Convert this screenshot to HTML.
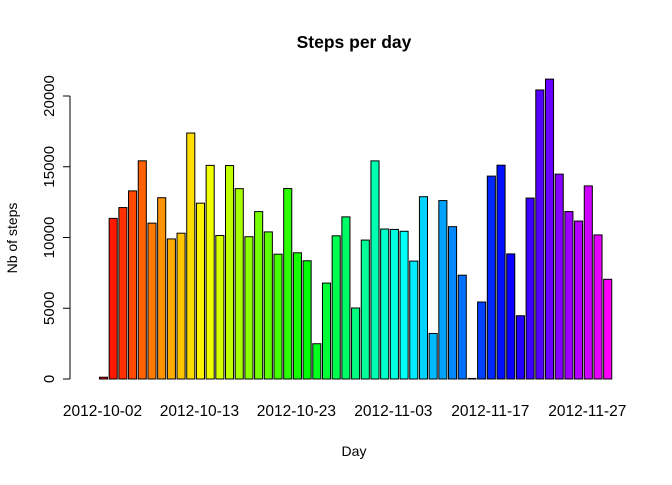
<!DOCTYPE html>
<html><head><meta charset="utf-8"><style>
body{margin:0;background:#fff}
svg text{font-family:"Liberation Sans",Arial,sans-serif}
</style></head><body>
<svg id="chart" width="672" height="480" viewBox="0 0 672 480" xmlns="http://www.w3.org/2000/svg">
<text x="354" y="48" text-anchor="middle" font-weight="bold" font-size="17.5">Steps per day</text>
<text x="354" y="456" text-anchor="middle" font-size="14">Day</text>
<text transform="translate(17,238) rotate(-90)" text-anchor="middle" font-size="14">Nb of steps</text>
<g id="bars"></g><g id="yaxis"></g><g id="xlabels"></g>
</svg>
<script>
const dates=["2012-10-02","2012-10-03","2012-10-04","2012-10-05","2012-10-06","2012-10-07","2012-10-09","2012-10-10","2012-10-11","2012-10-12","2012-10-13","2012-10-14","2012-10-15","2012-10-16","2012-10-17","2012-10-18","2012-10-19","2012-10-20","2012-10-21","2012-10-22","2012-10-23","2012-10-24","2012-10-25","2012-10-26","2012-10-27","2012-10-28","2012-10-29","2012-10-30","2012-10-31","2012-11-02","2012-11-03","2012-11-05","2012-11-06","2012-11-07","2012-11-08","2012-11-11","2012-11-12","2012-11-13","2012-11-15","2012-11-16","2012-11-17","2012-11-18","2012-11-19","2012-11-20","2012-11-21","2012-11-22","2012-11-23","2012-11-24","2012-11-25","2012-11-26","2012-11-27","2012-11-28","2012-11-29"];
const steps=[126,11352,12116,13294,15420,11015,12811,9900,10304,17382,12426,15098,10139,15084,13452,10056,11829,10395,8821,13460,8918,8355,2492,6778,10119,11458,5018,9819,15414,10600,10571,10439,8334,12883,3219,12608,10765,7336,41,5441,14339,15110,8841,4472,12787,20427,21194,14478,11834,11162,13646,10183,7047];
const yTicks=[0,5000,10000,15000,20000];
const NS="http://www.w3.org/2000/svg";
function y(v){return 379-(v/20000)*283;}
const unit=8.08, x0=103.5-0.7*unit;
function xc(i){return x0+(0.2+i*1.2+0.5)*unit;}
const bars=document.getElementById('bars');
steps.forEach((v,i)=>{
 const r=document.createElementNS(NS,'rect');
 r.setAttribute('x',xc(i)-unit/2);r.setAttribute('width',unit);
 r.setAttribute('y',y(v));r.setAttribute('height',379-y(v));
 r.setAttribute('fill',`hsl(${300*i/(steps.length-1)},100%,50%)`);
 r.setAttribute('stroke','#000');r.setAttribute('stroke-width','1');
 
 
 bars.appendChild(r);
});
const ya=document.getElementById('yaxis');
let ax=document.createElementNS(NS,'line');
ax.setAttribute('x1',70);ax.setAttribute('x2',70);ax.setAttribute('y1',y(0));ax.setAttribute('y2',y(20000));ax.setAttribute('stroke','#000');


ya.appendChild(ax);
yTicks.forEach(t=>{
 const l=document.createElementNS(NS,'line');
 l.setAttribute('x1',63);l.setAttribute('x2',70);l.setAttribute('y1',y(t));l.setAttribute('y2',y(t));l.setAttribute('stroke','#000');
 
 
 ya.appendChild(l);
 const tx=document.createElementNS(NS,'text');
 tx.setAttribute('transform',`translate(54,${y(t)}) rotate(-90)`);
 tx.setAttribute('text-anchor','middle');tx.setAttribute('font-size','15');
 tx.textContent=t;
 
 
 ya.appendChild(tx);
});
const xl=document.getElementById('xlabels');
for(let i=0;i<dates.length;i+=10){
 const tx=document.createElementNS(NS,'text');
 tx.setAttribute('x',xc(i)-1);tx.setAttribute('y',416);
 tx.setAttribute('text-anchor','middle');tx.setAttribute('font-size','15.5');
 tx.textContent=dates[i];
 
 
 xl.appendChild(tx);
}
</script>
</body></html>
